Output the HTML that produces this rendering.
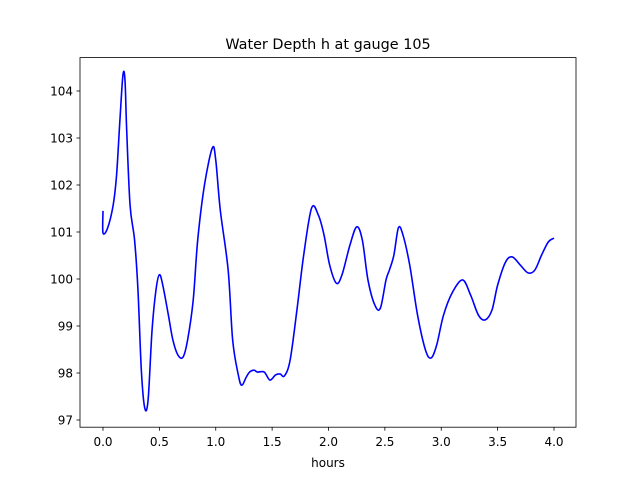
<!DOCTYPE html>
<html><head><meta charset="utf-8"><style>
html,body{margin:0;padding:0;background:#fff;}
svg text{font-family:"DejaVu Sans","Liberation Sans",sans-serif;}
</style></head><body>
<svg id="chart" width="640" height="480" viewBox="0 0 640 480">
<rect x="0" y="0" width="640" height="480" fill="#fff"/>
<text x="328" y="49" font-size="14.4" text-anchor="middle">Water Depth h at gauge 105</text>
<g id="xticks"></g>
<g id="yticks"></g>
<path id="line" fill="none" stroke="#0000ff" stroke-width="1.6"/>
<rect x="80" y="57.6" width="496" height="369.6" fill="none" stroke="#000" stroke-width="0.8"/>
<text x="328" y="467" font-size="12" text-anchor="middle">hours</text>
</svg>
<script>
const hours=[0,0,0.04,0.09,0.12,0.15,0.177,0.195,0.21,0.24,0.28,0.31,0.34,0.37,0.4,0.435,0.47,0.5,0.53,0.58,0.62,0.665,0.71,0.75,0.8,0.84,0.9,0.97,1.0,1.04,1.11,1.15,1.2,1.23,1.27,1.3,1.34,1.37,1.43,1.48,1.53,1.57,1.61,1.66,1.72,1.78,1.85,1.91,1.96,2.01,2.07,2.12,2.19,2.25,2.3,2.35,2.41,2.46,2.51,2.54,2.58,2.62,2.66,2.72,2.79,2.86,2.91,2.96,3.02,3.1,3.19,3.26,3.33,3.39,3.45,3.5,3.57,3.63,3.7,3.77,3.83,3.89,3.95,4.0];
const depth=[101.45,100.98,101.08,101.57,102.2,103.38,104.34,104.23,103.17,101.57,100.83,99.77,98.06,97.26,97.43,98.91,99.77,100.09,99.87,99.23,98.7,98.38,98.34,98.7,99.55,100.83,102.0,102.79,102.53,101.47,100.19,98.7,97.96,97.74,97.91,98.02,98.06,98.02,98.02,97.85,97.96,97.98,97.94,98.28,99.34,100.51,101.51,101.36,100.94,100.3,99.91,100.09,100.72,101.11,100.83,99.98,99.45,99.38,99.98,100.19,100.51,101.09,100.94,100.3,99.23,98.49,98.32,98.6,99.23,99.72,99.98,99.66,99.23,99.13,99.34,99.87,100.36,100.47,100.3,100.13,100.19,100.51,100.79,100.87];
const xTicks=[0,0.5,1,1.5,2,2.5,3,3.5,4];
const xTickLabels=["0.0","0.5","1.0","1.5","2.0","2.5","3.0","3.5","4.0"];
const yTicks=[97,98,99,100,101,102,103,104];
const yTickLabels=["97","98","99","100","101","102","103","104"];
const X=v=>103+v*112.75;
const Y=v=>91+(104-v)*47;
const NS="http://www.w3.org/2000/svg";
const xg=document.getElementById('xticks'),yg=document.getElementById('yticks');
xTicks.forEach((t,i)=>{
 const l=document.createElementNS(NS,'line');
 
 
 l.setAttribute('x1',X(t));l.setAttribute('x2',X(t));l.setAttribute('y1',427.2);l.setAttribute('y2',430.7);l.setAttribute('stroke','#000');l.setAttribute('stroke-width','0.8');xg.appendChild(l);
 const tx=document.createElementNS(NS,'text');
 
 
 tx.setAttribute('x',X(t));tx.setAttribute('y',446);tx.setAttribute('font-size','12');tx.setAttribute('text-anchor','middle');tx.textContent=xTickLabels[i];xg.appendChild(tx);
});
yTicks.forEach((t,i)=>{
 const l=document.createElementNS(NS,'line');
 
 
 l.setAttribute('x1',76.5);l.setAttribute('x2',80);l.setAttribute('y1',Y(t));l.setAttribute('y2',Y(t));l.setAttribute('stroke','#000');l.setAttribute('stroke-width','0.8');yg.appendChild(l);
 const tx=document.createElementNS(NS,'text');
 
 
 tx.setAttribute('x',73);tx.setAttribute('y',Y(t)+4.5);tx.setAttribute('font-size','12');tx.setAttribute('text-anchor','end');tx.textContent=yTickLabels[i];yg.appendChild(tx);
});
const P=hours.map((h,i)=>[X(h),Y(depth[i])]);
let d=`M${P[0][0]},${P[0][1]}`;
for(let i=0;i<P.length-1;i++){
 const p0=P[Math.max(0,i-1)],p1=P[i],p2=P[i+1],p3=P[Math.min(P.length-1,i+2)];
 const k=1/6;
 d+=` C${p1[0]+(p2[0]-p0[0])*k},${p1[1]+(p2[1]-p0[1])*k} ${p2[0]-(p3[0]-p1[0])*k},${p2[1]-(p3[1]-p1[1])*k} ${p2[0]},${p2[1]}`;
}
document.getElementById('line').setAttribute('d',d);
</script>
</body></html>
